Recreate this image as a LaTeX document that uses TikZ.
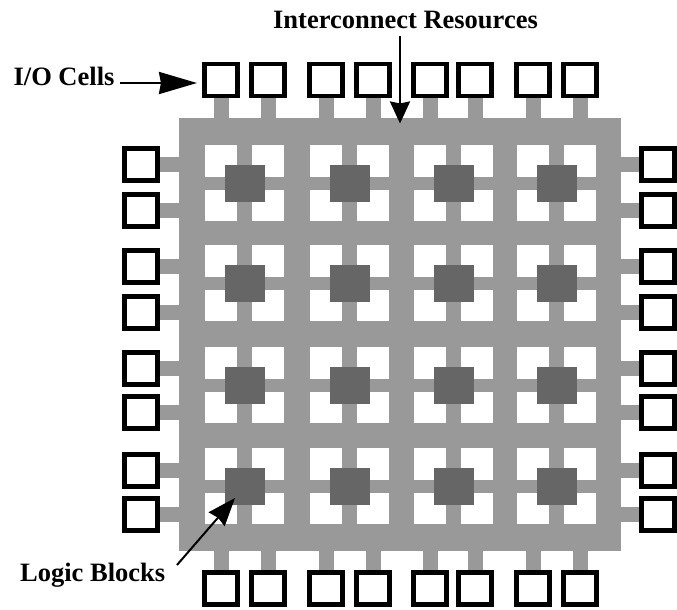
\documentclass[tikz,border=0pt]{standalone}
\usepackage{fontspec}
\setmainfont{Liberation Serif}
\usetikzlibrary{arrows.meta}
\definecolor{wire}{HTML}{999999}
\definecolor{logic}{HTML}{666666}
\begin{document}
\begin{tikzpicture}[x=1pt,y=-1pt,
  iocell/.style={draw=black, fill=white, line width=4.7pt, minimum width=33.3pt, minimum height=32pt, inner sep=0pt},
  logicblock/.style={fill=logic, minimum width=40pt, minimum height=37pt, inner sep=0pt, outer sep=0pt},
  stubh/.style={draw=wire, line width=14.5pt},
  stubv/.style={draw=wire, line width=15pt},
  lbltext/.style={font=\bfseries\fontsize{26.5}{30}\selectfont, inner sep=0pt},
  pointer/.style={draw=black, line width=2.5pt},
]
\useasboundingbox (0,0) rectangle (677,610);
% interconnect fabric
\node[fill=wire, minimum width=442pt, minimum height=432.4pt, inner sep=0pt, outer sep=0pt] (grid) at (400,334.5) {};
% cells with logic blocks
\foreach \cx [count=\i] in {205,310,414,517} {
  \foreach \ry [count=\j] in {145,245,347,448} {
    \fill[white] (\cx,\ry) rectangle ++(31.7,31.5);
    \fill[white] (\cx+47.3,\ry) rectangle ++(31.7,31.5);
    \fill[white] (\cx,\ry+44.5) rectangle ++(31.7,31.5);
    \fill[white] (\cx+47.3,\ry+44.5) rectangle ++(31.7,31.5);
    \node[logicblock] (lb\j\i) at (\cx+39.5,\ry+38) {};
  }
}
% I/O cells top and bottom
\foreach \bx [count=\k] in {202,249,307,354,411,456,514,561} {
  \node[iocell] (t\k) at (\bx+19,80) {};
  \node[iocell] (b\k) at (\bx+19,588.35) {};
  \draw[stubv] (t\k.south) -- (t\k.south |- grid.north);
  \draw[stubv] (b\k.north) -- (b\k.north |- grid.south);
}
% I/O cells left and right
\foreach \by [count=\k] in {146,192,248,294,350,394,452,496} {
  \node[iocell] (l\k) at (141,\by+18.35) {};
  \node[iocell] (r\k) at (658,\by+18.35) {};
  \draw[stubh] (l\k.east) -- (l\k.east -| grid.west);
  \draw[stubh] (r\k.west) -- (r\k.west -| grid.east);
}
% labels
\node[lbltext, anchor=base] (iclabel) at (405.5,28.5) {Interconnect Resources};
\node[lbltext, anchor=base] (iolabel) at (64,85.7) {I/O Cells};
\node[lbltext, anchor=base] (lblabel) at (92.7,581.5) {Logic Blocks};
% pointers
\coordinate (icstart) at (400,36);
\coordinate (ictip) at (400,123.5);
\coordinate (iostart) at (120,83);
\coordinate (iotip) at (197,83);
\coordinate (lbstart) at (177,565);
\coordinate (lbtip) at (235,498);
\draw[pointer, -{Stealth[length=22pt,width=20pt,inset=2pt]}] (icstart) -- (ictip);
\draw[pointer, -{Stealth[length=38pt,width=22pt,inset=2pt]}] (iostart) -- (iotip);
\draw[pointer, line width=2pt, -{Stealth[length=28pt,width=21pt,inset=2pt]}] (lbstart) -- (lbtip);
\end{tikzpicture}
\end{document}
